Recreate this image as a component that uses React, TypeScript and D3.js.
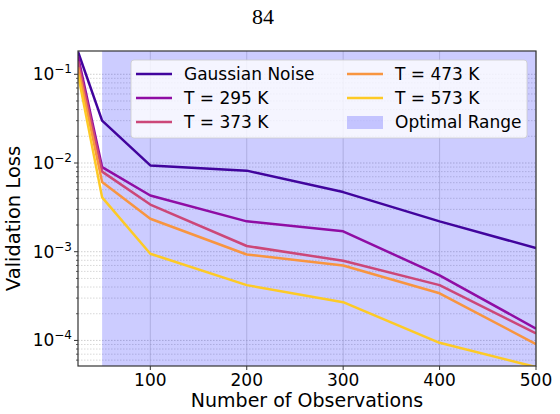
import React from "react";
import * as d3 from "d3";

// observation counts on the x axis
const observations = [25, 50, 100, 200, 300, 400, 500];

// validation loss per condition
const gaussianNoise = [0.18, 0.03, 0.0094, 0.0082, 0.0047, 0.0022, 0.0011];
const t295 = [0.16, 0.009, 0.0043, 0.0022, 0.0017, 0.00054, 0.000136];
const t373 = [0.14, 0.008, 0.0034, 0.00116, 0.00079, 0.00042, 0.00012];
const t473 = [0.12, 0.0061, 0.00235, 0.00093, 0.0007, 0.00034, 0.000091];
const t573 = [0.1, 0.0041, 0.00095, 0.00042, 0.00027, 0.000094, 0.00005];

const seriesNames = ["Gaussian Noise", "T = 295 K", "T = 373 K", "T = 473 K", "T = 573 K"];
const seriesValues = [gaussianNoise, t295, t373, t473, t573];
const seriesColors = ["#41049d", "#8f0da4", "#cc4778", "#f89540", "#fdca26"];

const optimalRange = [50, 500];
const xTicks = [100, 200, 300, 400, 500];
const yDecades = [-1, -2, -3, -4];

const width = 560;
const height = 414;
const margin = { top: 51, right: 24, bottom: 48, left: 78 };
const font = "DejaVu Sans, sans-serif";

export default function App() {
  const innerW = width - margin.left - margin.right;
  const innerH = height - margin.top - margin.bottom;

  const x = d3.scaleLinear().domain([25, 500]).range([0, innerW]);
  const y = d3.scaleLog().domain([5.15e-5, 0.183]).range([innerH, 0]);

  const line = d3
    .line<[number, number]>()
    .x((d) => x(d[0]))
    .y((d) => y(d[1]));

  // minor gridlines: 2..9 times every decade in view
  const minor: number[] = [];
  for (let e = -5; e <= -1; e++) {
    for (let m = 2; m <= 9; m++) {
      const v = m * Math.pow(10, e);
      if (v >= y.domain()[0] && v <= y.domain()[1]) minor.push(v);
    }
  }

  const legendItems = seriesNames.map((name, i) => ({ name, color: seriesColors[i], patch: false }));
  legendItems.push({ name: "Optimal Range", color: "rgba(0,0,255,0.2)", patch: true });
  const legendCols = [
    { hx: 136, tx: 184 },
    { hx: 347, tx: 395 },
  ];
  const rowY = [74, 98, 122];

  return (
    <svg width={width} height={height} style={{ position: "absolute", left: 0, top: 0 }}>
      <rect width={width} height={height} fill="#fff" />
      <text x={263} y={24} textAnchor="middle" fontFamily="Liberation Serif, serif" fontSize={22} fill="#000">
        84
      </text>
      <defs>
        <clipPath id="plot-clip">
          <rect width={innerW} height={innerH} />
        </clipPath>
      </defs>
      <g transform={`translate(${margin.left},${margin.top})`}>
        {/* grid */}
        {minor.map((v) => (
          <line key={"mn" + v} x1={0} x2={innerW} y1={y(v)} y2={y(v)} stroke="#999" strokeOpacity={0.55} strokeWidth={0.7} strokeDasharray="1.5,1.5" />
        ))}
        {yDecades.map((e) => (
          <line key={"mj" + e} x1={0} x2={innerW} y1={y(Math.pow(10, e))} y2={y(Math.pow(10, e))} stroke="#999" strokeOpacity={0.6} strokeWidth={0.8} strokeDasharray="1.5,1.5" />
        ))}
        {xTicks.map((t) => (
          <line key={"vx" + t} x1={x(t)} x2={x(t)} y1={0} y2={innerH} stroke="#b0b0b0" strokeOpacity={0.6} strokeWidth={0.8} />
        ))}

        {/* optimal range band */}
        <rect x={x(optimalRange[0])} y={0} width={x(optimalRange[1]) - x(optimalRange[0])} height={innerH} fill="#0000ff" fillOpacity={0.2} />

        <g clipPath="url(#plot-clip)">
          {seriesValues.map((vals, i) => (
            <path
              key={seriesNames[i]}
              d={line(observations.map((o, j) => [o, vals[j]] as [number, number])) || ""}
              fill="none"
              stroke={seriesColors[i]}
              strokeWidth={2.5}
              strokeLinejoin="round"
            />
          ))}
        </g>

        {/* frame */}
        <rect width={innerW} height={innerH} fill="none" stroke="#333" strokeWidth={1.2} />

        {/* x ticks */}
        {xTicks.map((t) => (
          <g key={"xt" + t} transform={`translate(${x(t)},${innerH})`}>
            <line y2={4} stroke="#333" />
            <text y={20} textAnchor="middle" fontFamily={font} fontSize={17} fill="#000">
              {t}
            </text>
          </g>
        ))}
        <text x={innerW / 2} y={innerH + 41} textAnchor="middle" fontFamily={font} fontSize={19} fill="#000">
          Number of Observations
        </text>

        {/* y ticks */}
        {minor.map((v) => (
          <line key={"myt" + v} x1={-2} x2={0} y1={y(v)} y2={y(v)} stroke="#333" strokeWidth={0.8} />
        ))}
        {yDecades.map((e) => (
          <g key={"yt" + e} transform={`translate(0,${y(Math.pow(10, e))})`}>
            <line x1={-4} x2={0} stroke="#333" />
            <text x={-6} y={6} textAnchor="end" fontFamily={font} fontSize={17} fill="#000">
              10
              <tspan dy={-7} fontSize={12}>
                {"\u2212" + Math.abs(e)}
              </tspan>
            </text>
          </g>
        ))}
        <text
          transform={`translate(${-margin.left + 20},${innerH / 2 + 10}) rotate(-90)`}
          textAnchor="middle"
          fontFamily={font}
          fontSize={19.5}
          fill="#000"
        >
          Validation Loss
        </text>
      </g>

      {/* legend */}
      <rect x={131} y={60} width={396} height={78} rx={3} fill="#fff" fillOpacity={0.8} stroke="#ccc" strokeWidth={0.8} />
      {legendItems.map((item, i) => {
        const col = legendCols[Math.floor(i / 3)];
        const ry = rowY[i % 3];
        return (
          <g key={item.name}>
            {item.patch ? (
              <rect x={col.hx} y={ry - 6} width={36} height={13} fill={item.color} />
            ) : (
              <line x1={col.hx} x2={col.hx + 36} y1={ry} y2={ry} stroke={item.color} strokeWidth={2.5} />
            )}
            <text x={col.tx} y={ry + 6} fontFamily={font} fontSize={17} fill="#000">
              {item.name}
            </text>
          </g>
        );
      })}
    </svg>
  );
}
